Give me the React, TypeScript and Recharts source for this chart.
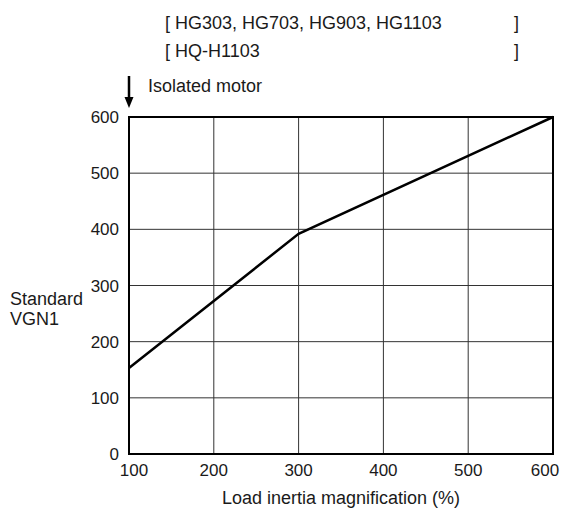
import React from "react";
import { LineChart, Line, XAxis, YAxis, CartesianGrid, ReferenceArea } from "recharts";

const inertia = [100, 300, 600];
const vgn1 = [153, 392, 600];
const xTicks = [100, 200, 300, 400, 500, 600];
const yTicks = [0, 100, 200, 300, 400, 500, 600];
const headerLine1 = "[ HG303, HG703, HG903, HG1103";
const headerLine2 = "[ HQ-H1103";
const noteText = "Isolated motor";
const yLabel = ["Standard", "VGN1"];
const xLabel = "Load inertia magnification (%)";

const data = inertia.map((x, i) => ({ x, y: vgn1[i] }));

const FONT = "'Liberation Sans', Arial, sans-serif";
const TXT = "#1a1a1a";

const XTick = (props: any) => {
  const { x, y, payload, index, visibleTicksCount } = props;
  let dx = 0;
  if (index === 0) dx = 5;
  if (index === visibleTicksCount - 1) dx = -8;
  return (
    <text x={x + dx} y={y} dy="0.71em" textAnchor="middle" fill={TXT} fontSize={17} fontFamily={FONT}>
      {payload.value}
    </text>
  );
};

export default function App() {
  return (
    <div style={{ position: "absolute", left: 0, top: 0, width: 565, height: 515, background: "#fff" }}>
      <LineChart width={565} height={515} data={data} margin={{ top: 117, right: 12, bottom: 0, left: 0 }}>
        <CartesianGrid stroke="#333" strokeWidth={1} verticalValues={xTicks} horizontalValues={yTicks} />
        <XAxis
          dataKey="x"
          type="number"
          domain={[100, 600]}
          ticks={xTicks}
          height={61}
          axisLine={false}
          tickLine={false}
          tickSize={0}
          tickMargin={10}
          interval={0}
          tick={<XTick />}
        />
        <YAxis
          type="number"
          domain={[0, 600]}
          ticks={yTicks}
          width={129}
          axisLine={false}
          tickLine={false}
          tickSize={0}
          tickMargin={10}
          interval={0}
          tick={{ fill: TXT, fontSize: 17, fontFamily: FONT }}
        />
        <ReferenceArea x1={100} x2={600} y1={0} y2={600} fill="none" stroke="#000" strokeWidth={2} ifOverflow="visible" />
        <Line type="linear" dataKey="y" stroke="#000" strokeWidth={2.5} dot={false} isAnimationActive={false} />
      </LineChart>
      <svg width={565} height={515} style={{ position: "absolute", left: 0, top: 0, pointerEvents: "none" }}>
        <g fontFamily={FONT} fontSize={18} fill={TXT}>
          <text x={165} y={28.5}>{headerLine1}</text>
          <text x={514} y={28.5}>]</text>
          <text x={165} y={56.5}>{headerLine2}</text>
          <text x={514} y={56.5}>]</text>
          <text x={148} y={91.5}>{noteText}</text>
          <text x={10} y={305}>{yLabel[0]}</text>
          <text x={10} y={325}>{yLabel[1]}</text>
          <text x={341} y={504} textAnchor="middle">{xLabel}</text>
        </g>
        <line x1={129} y1={76} x2={129} y2={98} stroke="#000" strokeWidth={2.5} />
        <polygon points="124.5,97 133.5,97 129,108" fill="#000" />
      </svg>
    </div>
  );
}
